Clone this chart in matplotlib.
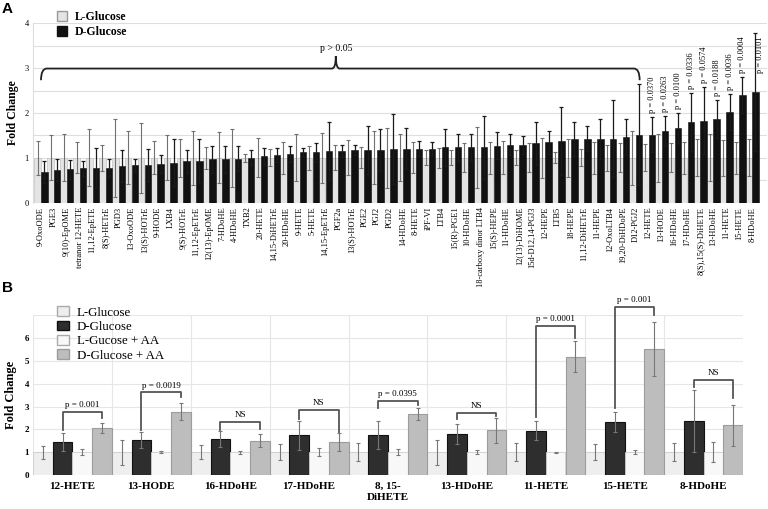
import matplotlib
matplotlib.use('Agg')
import matplotlib.pyplot as plt
import numpy as np
from matplotlib.path import Path
from matplotlib.patches import PathPatch, Patch

plt.rcParams['font.family'] = ['Liberation Serif', 'DejaVu Serif']

# ---------------- Panel A data ----------------
lipids_a = ['9-OxoODE', 'PGE3', '9(10)-EpOME', 'tetranor 12-HETE', '11,12-EpETE', '8(S)-HETrE',
            'PGD3', '13-OxoODE', '13(S)-HOTrE', '9-HODE', 'LXB4', '9(S)-HOTrE', '11,12-EpETrE',
            '12(13)-EpOME', '7-HDoHE', '4-HDoHE', 'TXB2', '20-HETE', '14,15-DiHETrE', '20-HDoHE',
            '9-HETE', '5-HETE', '14,15-EpETrE', 'PGF2a', '13(S)-HOTrE', 'PGE2', 'PGJ2', 'PGD2',
            '14-HDoHE', '8-HETE', 'iPF-VI', 'LTB4', '15(R)-PGE1', '10-HDoHE', '18-carboxy dinor LTB4',
            '15(S)-HEPE', '11-HDoHE', '12(13)-DiHOME', '15d-D12,14-PGJ3', '12-HEPE', 'LTB5', '18-HEPE',
            '11,12-DiHETrE', '11-HEPE', '12-OxoLTB4', '19,20-DiHDoPE', 'D12-PGJ2', '12-HETE',
            '13-HODE', '16-HDoHE', '17-HDoHE', '8(S),15(S)-DiHETE', '13-HDoHE', '11-HETE',
            '15-HETE', '8-HDoHE']
l_glucose_a = [1.0] * len(lipids_a)
l_err_a = [0.38, 0.50, 0.53, 0.34, 0.64, 0.29, 0.87, 0.59, 0.78, 0.37,
           0.50, 0.42, 0.60, 0.25, 0.57, 0.65, 0.09, 0.44, 0.19, 0.36,
           0.52, 0.27, 0.56, 0.28, 0.39, 0.24, 0.59, 0.67, 0.53, 0.34,
           0.17, 0.22, 0.17, 0.33, 0.68, 0.36, 0.37, 0.17, 0.33, 0.45,
           0.12, 0.42, 0.19, 0.36, 0.29, 0.33, 0.60, 0.30, 0.54, 0.32,
           0.36, 0.41, 0.52, 0.40, 0.36, 0.41]
d_glucose_a = [0.68, 0.72, 0.74, 0.76, 0.77, 0.78, 0.81, 0.83, 0.83, 0.86,
               0.89, 0.92, 0.92, 0.96, 0.96, 0.98, 1.00, 1.03, 1.06, 1.09,
               1.12, 1.12, 1.15, 1.15, 1.17, 1.17, 1.18, 1.20, 1.20, 1.20,
               1.20, 1.23, 1.23, 1.23, 1.23, 1.27, 1.29, 1.29, 1.32, 1.34,
               1.38, 1.41, 1.42, 1.42, 1.42, 1.47, 1.51, 1.51, 1.60, 1.66,
               1.80, 1.83, 1.86, 2.02, 2.40, 2.46]
d_err_a = [0.24, 0.25, 0.21, 0.16, 0.44, 0.20, 0.36, 0.14, 0.36, 0.21,
           0.52, 0.26, 0.49, 0.30, 0.30, 0.28, 0.17, 0.19, 0.16, 0.18,
           0.09, 0.21, 0.65, 0.13, 0.11, 0.53, 0.47, 0.78, 0.46, 0.17,
           0.14, 0.42, 0.30, 0.31, 0.70, 0.30, 0.23, 0.20, 0.48, 0.26,
           0.76, 0.38, 0.28, 0.45, 0.86, 0.40, 1.13, 0.39, 0.33, 0.33,
           0.65, 0.74, 0.43, 0.40, 0.41, 1.32]
pvals_a = ['p = 0.0370', 'p = 0.0263', 'p = 0.0100', 'p = 0.0336', 'p = 0.0574',
           'p = 0.0188', 'p = 0.0036', 'p = 0.0004', 'p = 0.0101']
pval_first_index = 47

# ---------------- Panel B data ----------------
groups_b = ['12-HETE', '13-HODE', '16-HDoHE', '17-HDoHE', '8, 15-\nDiHETE',
            '13-HDoHE', '11-HETE', '15-HETE', '8-HDoHE']
l_b = [1, 1, 1, 1, 1, 1, 1, 1, 1]
l_b_err = [0.28, 0.55, 0.30, 0.35, 0.40, 0.55, 0.40, 0.35, 0.40]
d_b = [1.45, 1.55, 1.58, 1.74, 1.75, 1.80, 1.94, 2.33, 2.39]
d_b_err = [0.38, 0.35, 0.33, 0.65, 0.62, 0.42, 0.42, 0.44, 1.36]
l_aa = [1, 1, 1, 1, 1, 1, 1, 1, 1]
l_aa_err = [0.12, 0.05, 0.07, 0.17, 0.13, 0.08, 0.03, 0.10, 0.45]
d_aa = [2.05, 2.78, 1.50, 1.45, 2.66, 1.97, 5.19, 5.53, 2.19]
d_aa_err = [0.22, 0.37, 0.28, 0.40, 0.26, 0.55, 0.67, 1.18, 0.90]
br_top = [2.78, 3.62, 2.33, 2.85, 3.26, 2.73, 6.53, 7.38, 4.17]
br_left = [1.97, 1.98, 1.98, 2.45, 2.93, 2.46, 2.56, 2.92, 3.85]
br_right = [2.50, 3.42, 2.00, 1.90, 3.07, 2.60, 6.00, 7.00, 3.39]
br_label = ['p = 0.001', 'p = 0.0019', 'NS', 'NS', 'p = 0.0395', 'NS',
            'p = 0.0001', 'p = 0.001', 'NS']

fig = plt.figure(figsize=(7.68, 5.09), dpi=100)

# ================= Panel A =================
axA = fig.add_axes([33/768, 1-202.5/509, (767-33)/768, (202.5-23.3)/509])
n = len(lipids_a)
x = np.arange(n)
w = 0.5
axA.bar(x - 0.255, l_glucose_a, width=w, color='#e4e4e4', edgecolor='#c2c2c2',
        linewidth=0.5, zorder=2)
axA.errorbar(x - 0.255, l_glucose_a, yerr=l_err_a, fmt='none', ecolor='#707070',
             elinewidth=0.8, capsize=1.6, capthick=0.8, zorder=3)
axA.bar(x + 0.255, d_glucose_a, width=w, color='#111111', edgecolor='#111111',
        linewidth=0.4, zorder=2)
axA.errorbar(x + 0.255, d_glucose_a, yerr=d_err_a, fmt='none', ecolor='#1a1a1a',
             elinewidth=0.9, capsize=1.6, capthick=0.9, zorder=3)
axA.set_xlim(-0.62, 56.15)
axA.set_ylim(0, 4)
yt = np.arange(0, 4.01, 0.5)
axA.set_yticks(yt)
axA.set_yticklabels([str(int(v)) if v == int(v) else '' for v in yt], fontsize=6)
axA.grid(axis='y', color='#dedede', linewidth=0.8, zorder=0)
axA.set_axisbelow(True)
axA.set_xticks(x)
axA.set_xticklabels(lipids_a, rotation=90, fontsize=6, va='top', ha='center')
axA.tick_params(axis='both', length=0, pad=3)
for s in ['top', 'right', 'bottom']:
    axA.spines[s].set_visible(False)
axA.spines['left'].set_color('#dddddd')
axA.set_ylabel('Fold Change', fontsize=8.5, fontweight='bold', labelpad=4)

# p-values
for k, p in enumerate(pvals_a):
    i = pval_first_index + k
    if k == len(pvals_a) - 1:
        xp, yp = i + 0.6, 2.9
    else:
        xp, yp = i + 0.255, d_glucose_a[i] + d_err_a[i] + 0.09
    axA.text(xp, yp, p, rotation=90, ha='center', va='bottom', fontsize=6, clip_on=False)

# brace
x0, xc, x1, yb, ye, yp = 0.0, 22.8, 46.3, 2.99, 2.73, 3.27
verts = [(x0, ye), (x0, yb), (x0 + 0.45, yb), (xc - 0.3, yb), (xc, yb), (xc, yp),
         (xc, yb), (xc + 0.3, yb), (x1 - 0.45, yb), (x1, yb), (x1, ye)]
codes = [Path.MOVETO, Path.CURVE3, Path.CURVE3, Path.LINETO, Path.CURVE3, Path.CURVE3,
         Path.CURVE3, Path.CURVE3, Path.LINETO, Path.CURVE3, Path.CURVE3]
axA.add_patch(PathPatch(Path(verts, codes), facecolor='none', edgecolor='#222222',
                        linewidth=1.3, zorder=4))
axA.text(xc, 3.33, 'p > 0.05', ha='center', va='bottom', fontsize=7)

fig.legend(handles=[Patch(facecolor='#e4e4e4', edgecolor='#999999', label='L-Glucose'),
                    Patch(facecolor='#111111', edgecolor='#111111', label='D-Glucose')],
           loc='upper left', bbox_to_anchor=(52/768, 1 - 6/509), frameon=False,
           prop={'size': 8.5, 'weight': 'bold'}, handlelength=0.9, handleheight=0.9,
           handletextpad=0.6, labelspacing=0.3, borderaxespad=0)

fig.text(2/768, 1 - 2/509, 'A', fontsize=11, fontweight='bold', va='top', ha='left',
         family='Liberation Sans')

# ================= Panel B =================
axB = fig.add_axes([33/768, 1-475/509, (743-33)/768, (475-315.4)/509])
g = np.arange(len(groups_b))
bw = 0.25
ekw = dict(fmt='none', ecolor='#777777', elinewidth=0.8, capsize=1.5, capthick=0.8, zorder=3)
axB.bar(g + 0.125, l_b, width=bw, color='#eeeeee', edgecolor='#cccccc', linewidth=0.6, zorder=2)
axB.errorbar(g + 0.125, l_b, yerr=l_b_err, **ekw)
axB.bar(g + 0.375, d_b, width=bw, color='#2e2e2e', edgecolor='#111111', linewidth=0.8, zorder=2)
axB.errorbar(g + 0.375, d_b, yerr=d_b_err, **ekw)
axB.bar(g + 0.625, l_aa, width=bw, color='#f8f8f8', edgecolor='#d0d0d0', linewidth=0.6, zorder=2)
axB.errorbar(g + 0.625, l_aa, yerr=l_aa_err, **ekw)
axB.bar(g + 0.875, d_aa, width=bw, color='#bdbdbd', edgecolor='#9c9c9c', linewidth=0.8, zorder=2)
axB.errorbar(g + 0.875, d_aa, yerr=d_aa_err, **ekw)

for k in range(len(groups_b)):
    xl, xr = k + 0.375, k + 0.875
    axB.plot([xl, xl, xr, xr], [br_left[k], br_top[k], br_top[k], br_right[k]],
             color='#555555', linewidth=1.3, clip_on=False, zorder=4)
    axB.text((xl + xr) / 2, br_top[k] + 0.12, br_label[k], ha='center', va='bottom',
             fontsize=6.5, clip_on=False)

axB.set_xlim(0, len(groups_b))
axB.set_ylim(0, 7)
axB.set_yticks(np.arange(0, 8))
axB.set_yticklabels([str(v) for v in range(7)] + [''], fontsize=6.5, fontweight='bold')
axB.set_xticks(g + 0.5)
axB.set_xticklabels(groups_b, fontsize=8, fontweight='bold', linespacing=1.35)
axB.set_xticks(np.arange(0, len(groups_b) + 1), minor=True)
axB.grid(axis='y', which='major', color='#e6e6e6', linewidth=0.8, zorder=0)
axB.grid(axis='x', which='minor', color='#e6e6e6', linewidth=0.8, zorder=0)
axB.set_axisbelow(True)
axB.tick_params(axis='y', which='both', length=0, pad=3)
axB.tick_params(axis='x', which='both', length=0, pad=5)
for s in axB.spines.values():
    s.set_visible(False)
axB.set_ylabel('Fold Change', fontsize=9, fontweight='bold', labelpad=5)

fig.legend(handles=[Patch(facecolor='#eeeeee', edgecolor='#aaaaaa', label='L-Glucose'),
                    Patch(facecolor='#2e2e2e', edgecolor='#111111', label='D-Glucose'),
                    Patch(facecolor='#f8f8f8', edgecolor='#aaaaaa', label='L-Gucose + AA'),
                    Patch(facecolor='#bdbdbd', edgecolor='#9c9c9c', label='D-Glucose + AA')],
           loc='upper left', bbox_to_anchor=(52/768, 1 - 301/509), frameon=False,
           prop={'size': 9.3}, handlelength=0.9, handleheight=0.8,
           handletextpad=0.6, labelspacing=0.15, borderaxespad=0)

fig.text(2/768, 1 - 281/509, 'B', fontsize=11, fontweight='bold', va='top', ha='left',
         family='Liberation Sans')

fig.savefig('out.png', dpi=100)
